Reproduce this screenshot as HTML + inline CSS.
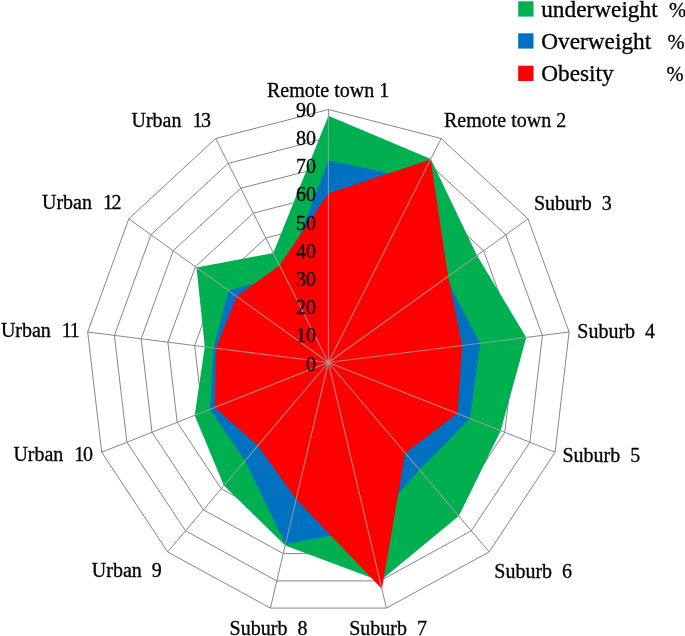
<!DOCTYPE html>
<html><head><meta charset="utf-8"><title>Radar chart</title>
<style>
html,body{margin:0;padding:0;background:#fff}
svg{display:block;font-family:"Liberation Serif","Times New Roman",serif;fill:#000}
text{white-space:pre;stroke:#000;stroke-width:0.3px;paint-order:stroke}
</style></head><body>
<svg width="685" height="636" viewBox="0 0 685 636">
<rect width="685" height="636" fill="#fff"/>
<g fill="none" stroke="#787878" stroke-width="0.9">
<polygon points="328.4,334.4 340.9,337.6 350.6,346.5 355.1,359.1 353.6,372.5 346.3,383.5 334.8,389.8 322.0,389.8 310.5,383.5 303.2,372.5 301.7,359.1 306.2,346.5 315.9,337.6"/>
<polygon points="328.4,306.3 353.4,312.7 372.7,330.6 381.9,355.7 378.8,382.4 364.1,404.6 341.3,417.1 315.5,417.1 292.7,404.6 278.0,382.4 274.9,355.7 284.1,330.6 303.4,312.7"/>
<polygon points="328.4,278.2 366.0,287.8 394.9,314.6 408.6,352.3 404.0,392.4 382.0,425.6 347.7,444.4 309.1,444.4 274.8,425.6 252.8,392.4 248.2,352.3 261.9,314.6 290.8,287.8"/>
<polygon points="328.4,250.1 378.5,262.9 417.1,298.6 435.4,348.9 429.2,402.4 399.9,446.7 354.2,471.7 302.6,471.7 256.9,446.7 227.6,402.4 221.4,348.9 239.7,298.6 278.3,262.9"/>
<polygon points="328.4,221.9 391.0,238.0 439.3,282.7 462.1,345.6 454.4,412.3 417.7,467.7 360.6,499.0 296.2,499.0 239.1,467.7 202.4,412.3 194.7,345.6 217.5,282.7 265.8,238.0"/>
<polygon points="328.4,193.8 403.5,213.2 461.4,266.7 488.9,342.2 479.6,422.3 435.6,488.7 367.1,526.3 289.7,526.3 221.2,488.7 177.2,422.3 167.9,342.2 195.4,266.7 253.3,213.2"/>
<polygon points="328.4,165.7 416.1,188.3 483.6,250.7 515.6,338.8 504.8,432.3 453.5,509.8 373.5,553.6 283.3,553.6 203.3,509.8 152.0,432.3 141.2,338.8 173.2,250.7 240.7,188.3"/>
<polygon points="328.4,137.6 428.6,163.4 505.8,234.7 542.4,335.4 529.9,442.2 471.3,530.8 380.0,580.9 276.8,580.9 185.5,530.8 126.9,442.2 114.4,335.4 151.0,234.7 228.2,163.4"/>
<polygon points="328.4,109.5 441.1,138.5 528.0,218.8 569.1,332.0 555.1,452.2 489.2,551.9 386.4,608.1 270.4,608.1 167.6,551.9 101.7,452.2 87.7,332.0 128.8,218.8 215.7,138.5"/>
</g>
<g stroke="#828282" stroke-width="0.95">
<line x1="328.4" y1="362.5" x2="328.4" y2="109.5"/>
<line x1="328.4" y1="362.5" x2="441.1" y2="138.5"/>
<line x1="328.4" y1="362.5" x2="528.0" y2="218.8"/>
<line x1="328.4" y1="362.5" x2="569.1" y2="332.0"/>
<line x1="328.4" y1="362.5" x2="555.1" y2="452.2"/>
<line x1="328.4" y1="362.5" x2="489.2" y2="551.9"/>
<line x1="328.4" y1="362.5" x2="386.4" y2="608.1"/>
<line x1="328.4" y1="362.5" x2="270.4" y2="608.1"/>
<line x1="328.4" y1="362.5" x2="167.6" y2="551.9"/>
<line x1="328.4" y1="362.5" x2="101.7" y2="452.2"/>
<line x1="328.4" y1="362.5" x2="87.7" y2="332.0"/>
<line x1="328.4" y1="362.5" x2="128.8" y2="218.8"/>
<line x1="328.4" y1="362.5" x2="215.7" y2="138.5"/>
</g>
<polygon fill="#00b050" points="328.4,115.7 430.8,158.9 477.0,255.5 526.3,337.4 500.7,430.7 458.8,516.1 380.0,580.9 285.2,545.4 223.9,485.6 194.7,415.4 204.8,346.8 196.5,267.5 273.3,253.0"/>
<polygon fill="#0070c0" points="328.4,160.4 420.4,179.6 445.9,277.9 480.1,343.3 470.0,418.5 419.5,469.8 367.7,529.0 285.5,544.0 245.0,460.8 210.0,409.4 213.4,347.9 228.6,290.6 284.6,275.4"/>
<polygon fill="#ff0000" points="328.4,193.6 430.6,159.4 448.1,276.3 462.1,345.6 457.4,413.5 405.2,453.0 381.9,589.0 296.2,499.0 257.8,445.6 214.8,407.5 216.1,348.3 236.8,296.5 279.6,265.4"/>
<clipPath id="fills"><polygon points="328.4,115.7 430.8,158.9 477.0,255.5 526.3,337.4 500.7,430.7 458.8,516.1 380.0,580.9 285.2,545.4 223.9,485.6 194.7,415.4 204.8,346.8 196.5,267.5 273.3,253.0"/><polygon points="328.4,160.4 420.4,179.6 445.9,277.9 480.1,343.3 470.0,418.5 419.5,469.8 367.7,529.0 285.5,544.0 245.0,460.8 210.0,409.4 213.4,347.9 228.6,290.6 284.6,275.4"/><polygon points="328.4,193.6 430.6,159.4 448.1,276.3 462.1,345.6 457.4,413.5 405.2,453.0 381.9,589.0 296.2,499.0 257.8,445.6 214.8,407.5 216.1,348.3 236.8,296.5 279.6,265.4"/></clipPath>
<g stroke="#a4a4a4" stroke-width="1.1" stroke-opacity="0.8" clip-path="url(#fills)">
<line x1="328.4" y1="362.5" x2="328.4" y2="109.5"/>
<line x1="328.4" y1="362.5" x2="441.1" y2="138.5"/>
<line x1="328.4" y1="362.5" x2="528.0" y2="218.8"/>
<line x1="328.4" y1="362.5" x2="569.1" y2="332.0"/>
<line x1="328.4" y1="362.5" x2="555.1" y2="452.2"/>
<line x1="328.4" y1="362.5" x2="489.2" y2="551.9"/>
<line x1="328.4" y1="362.5" x2="386.4" y2="608.1"/>
<line x1="328.4" y1="362.5" x2="270.4" y2="608.1"/>
<line x1="328.4" y1="362.5" x2="167.6" y2="551.9"/>
<line x1="328.4" y1="362.5" x2="101.7" y2="452.2"/>
<line x1="328.4" y1="362.5" x2="87.7" y2="332.0"/>
<line x1="328.4" y1="362.5" x2="128.8" y2="218.8"/>
<line x1="328.4" y1="362.5" x2="215.7" y2="138.5"/>
</g>
<g font-size="20" text-anchor="end">
<text x="316" y="370.6">0</text>
<text x="316" y="342.4">10</text>
<text x="316" y="314.2">20</text>
<text x="316" y="285.9">30</text>
<text x="316" y="257.7">40</text>
<text x="316" y="229.5">50</text>
<text x="316" y="201.3">60</text>
<text x="316" y="173.0">70</text>
<text x="316" y="144.8">80</text>
<text x="316" y="116.6">90</text>
</g>
<g font-size="20">
<text x="267" y="97">Remote town 1</text>
<text x="444" y="127">Remote town 2</text>
<text x="534" y="210">Suburb  3</text>
<text x="577.3" y="338">Suburb  4</text>
<text x="562.5" y="462.4">Suburb  5</text>
<text x="494.3" y="577.5">Suburb  6</text>
<text x="349.2" y="635">Suburb  7</text>
<text x="229.6" y="635">Suburb  8</text>
<text x="91.8" y="576.7">Urban  9</text>
<text x="13.4" y="461.4">Urban  <tspan dx="0.9">1</tspan><tspan dx="-1.3">0</tspan></text>
<text x="0.9" y="337.3">Urban  <tspan dx="0.9">1</tspan><tspan dx="-1.3">1</tspan></text>
<text x="42" y="209">Urban  <tspan dx="0.9">1</tspan><tspan dx="-1.3">2</tspan></text>
<text x="131.5" y="127.3">Urban  <tspan dx="0.9">1</tspan><tspan dx="-1.3">3</tspan></text>
</g>
<g font-size="23.3">
<rect x="518.2" y="1.3" width="15.3" height="15.3" fill="#00b050"/>
<text x="541.2" y="17.0">underweight</text>
<text x="668.9" y="17.0" font-size="20.5">%</text>
<rect x="518.2" y="33.3" width="15.3" height="15.3" fill="#0070c0"/>
<text x="541.2" y="49.2">Overweight</text>
<text x="667.6" y="49.2" font-size="20.5">%</text>
<rect x="518.2" y="65.7" width="15.3" height="15.3" fill="#ff0000"/>
<text x="541.2" y="81.3">Obesity</text>
<text x="666.4" y="81.3" font-size="20.5">%</text>
</g>
</svg>
</body></html>
